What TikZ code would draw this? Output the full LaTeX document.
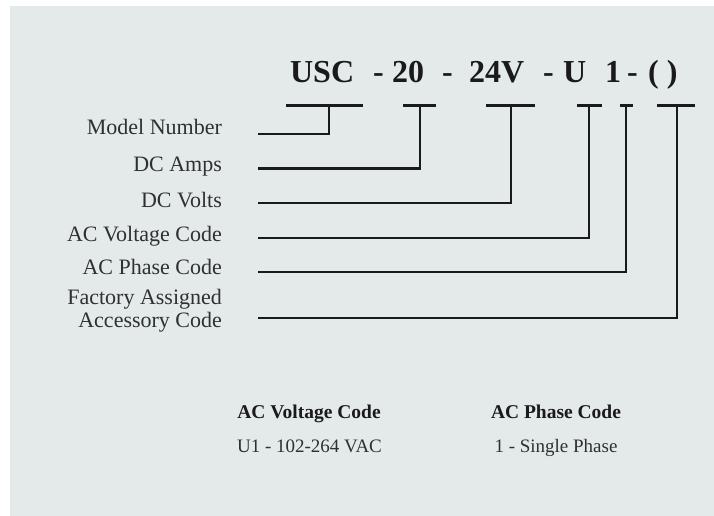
\documentclass[tikz,border=0pt]{standalone}
\usepackage{fontspec}
\setmainfont{Liberation Serif}
\definecolor{fondo}{RGB}{228,233,233}
\definecolor{tinta}{RGB}{26,26,26}
\definecolor{texto}{RGB}{48,48,48}
\begin{document}
\begin{tikzpicture}[x=1pt, y=-1pt, line width=2.2pt,
    codigo/.style={anchor=base west, inner sep=0pt, text=tinta, font=\bfseries\fontsize{32}{36}\selectfont},
    campo/.style={anchor=base east, inner sep=0pt, text=texto, font=\fontsize{22}{23}\selectfont},
    tabla/.style={anchor=base, inner sep=0pt, text=texto, font=\fontsize{19}{23}\selectfont},
    conector/.style={draw=tinta}]
        % Fondo
        \useasboundingbox (0,0) rectangle (714,516);
        \fill[fondo] (10,6) rectangle (714,516);

        % Código del modelo
        \node[codigo] (cUSC) at (289,83) {USC};
        \node[codigo] (g1) at (372,83) {-};
        \node[codigo] (c20) at (391,83) {20};
        \node[codigo] (g2) at (441,83) {-};
        \node[codigo] (c24V) at (468,83) {24V};
        \node[codigo] (g3) at (542,83) {-};
        \node[codigo] (cU) at (562,83) {U};
        \node[codigo] (c1) at (604,83) {1};
        \node[codigo] (g4) at (626,83) {-};
        \node[codigo] (cpar) at (647,83) {( )};

        % Marcas bajo cada campo
        \foreach \n/\xa/\xm/\xb in {1/286/329/363, 2/403/420/436, 3/486/510.7/535,
                                    4/577/589/602, 5/620/626/633, 6/657/676.7/695} {
            \coordinate (m\n) at (\xm,105.5);
            \draw[conector] (\xa,105.5) -- (\xb,105.5);
        }

        % Nombres de los campos
        \node[campo] (lModel) at (223,135) {Model Number};
        \node[campo] (lAmps) at (223,171.5) {DC Amps};
        \node[campo] (lVolts) at (223,207) {DC Volts};
        \node[campo] (lVoltage) at (223,241) {AC Voltage Code};
        \node[campo] (lPhase) at (223,274.5) {AC Phase Code};
        \node[campo, anchor=east, align=right] (lAcc) at (223,311) {Factory Assigned\\Accessory Code};

        % Líneas de cada nombre a su marca
        \foreach \n/\y in {1/134, 2/168.5, 3/203.3, 4/237.7, 5/271.7, 6/317.7} {
            \coordinate (s\n) at (258,\y);
            \draw[conector] (s\n) -| (m\n);
        }

        % Tabla de códigos
        \node[tabla, font=\bfseries\fontsize{19.5}{23}\selectfont, text=tinta] (tVoltage) at (309,418) {AC Voltage Code};
        \node[tabla] (vVoltage) at (309.5,452.7) {U1 - 102-264 VAC};
        \node[tabla, font=\bfseries\fontsize{19.5}{23}\selectfont, text=tinta] (tPhase) at (556,418) {AC Phase Code};
        \node[tabla] (vPhase) at (556,452.7) {1 - Single Phase};
\end{tikzpicture}
\end{document}
